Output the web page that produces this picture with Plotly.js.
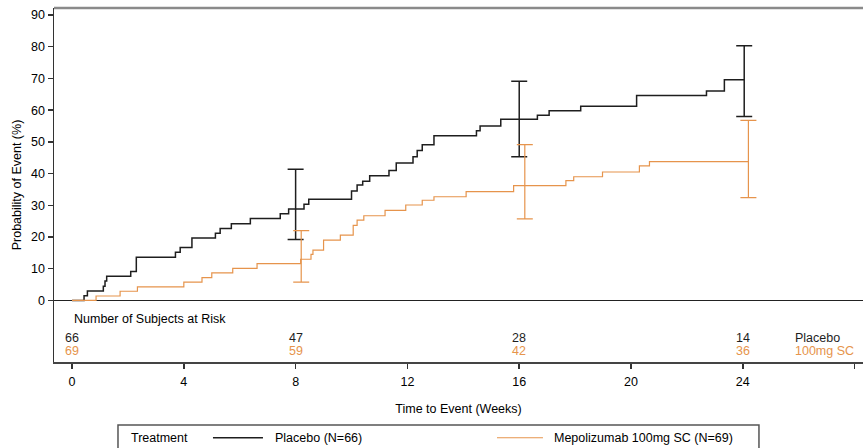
<!DOCTYPE html>
<html>
<head>
<meta charset="utf-8">
<script src="https://cdn.plot.ly/plotly-3.0.1.min.js"></script>
<style>
  html, body { margin: 0; padding: 0; background: #fff; }
  #chart { width: 863px; height: 448px; }
</style>
</head>
<body>
<div id="chart"></div>
<script>
// Kaplan-Meier style cumulative probability of event, by treatment arm
const placeboWeeks = [0, 0.43, 0.55, 1.12, 1.18, 1.24, 2.1, 2.3, 3.7, 3.87, 4.29, 5.13, 5.3, 5.7, 6.38, 7.45, 7.75, 8.3, 8.47, 10.0, 10.2, 10.4, 10.65, 11.34, 11.6, 12.2, 12.35, 12.53, 12.95, 14.47, 14.6, 15.34, 16.65, 17.07, 18.2, 20.2, 22.7, 23.34, 24.05];
const placeboProb  = [0, 1.5, 3.0, 4.5, 6.1, 7.6, 9.1, 13.6, 15.2, 16.7, 19.7, 21.2, 22.7, 24.2, 25.8, 27.3, 28.8, 30.3, 31.9, 34.5, 36.4, 37.6, 39.3, 41.0, 43.3, 45.3, 47.3, 49.1, 51.9, 53.5, 55.0, 57.1, 58.4, 59.8, 61.2, 64.6, 66.0, 69.6, 69.6];

const mepoWeeks = [0, 0.86, 1.72, 2.34, 4.0, 4.65, 5.0, 5.75, 6.62, 8.18, 8.55, 8.62, 9.0, 9.6, 10.06, 10.2, 10.44, 11.2, 11.94, 12.53, 12.95, 14.1, 15.8, 17.67, 17.95, 18.98, 20.3, 20.66, 24.2];
const mepoProb  = [0, 1.4, 2.9, 4.3, 5.8, 7.2, 8.7, 10.1, 11.6, 13.0, 14.5, 15.9, 19.0, 20.6, 23.7, 25.3, 26.7, 28.4, 30.1, 31.6, 32.7, 34.3, 36.2, 37.8, 39.0, 40.5, 42.4, 43.8, 43.8];

// 95% confidence intervals at weeks 8, 16 and 24
const placeboCIWeeks = [8.0, 16.0, 24.05];
const placeboCIEst   = [28.8, 57.1, 69.6];
const placeboCILow   = [19.2, 45.3, 58.0];
const placeboCIHigh  = [41.4, 69.1, 80.3];

const mepoCIWeeks = [8.2, 16.2, 24.2];
const mepoCIEst   = [13.0, 36.2, 43.8];
const mepoCILow   = [5.8, 25.7, 32.4];
const mepoCIHigh  = [22.0, 49.1, 56.8];

// Number of subjects at risk
const riskWeeks   = [0, 8, 16, 24];
const riskPlacebo = [66, 47, 28, 14];
const riskMepo    = [69, 59, 42, 36];

const armNames   = ['Placebo', '100mg SC'];
const legendText = ['Placebo (N=66)', 'Mepolizumab 100mg SC (N=69)'];

const xTicks = [0, 4, 8, 12, 16, 20, 24, 28];
const xTickText = ['0', '4', '8', '12', '16', '20', '24', ''];
const yTicks = [0, 10, 20, 30, 40, 50, 60, 70, 80, 90];

const BLACK = '#1e1e1e';
const ORANGE = '#E6944C';
const FONT = 'Liberation Sans, Arial, sans-serif';
const FS = 12.5;

const traces = [
  {
    x: placeboWeeks, y: placeboProb, type: 'scatter', mode: 'lines',
    line: { shape: 'hv', color: BLACK, width: 1.5 },
    hoverinfo: 'skip', showlegend: false
  },
  {
    x: placeboCIWeeks, y: placeboCIEst, type: 'scatter', mode: 'markers',
    marker: { size: 1, color: 'rgba(0,0,0,0)' },
    error_y: {
      type: 'data', symmetric: false,
      array: placeboCIHigh.map((h, i) => h - placeboCIEst[i]),
      arrayminus: placeboCIEst.map((e, i) => e - placeboCILow[i]),
      color: BLACK, thickness: 1.5, width: 8
    },
    hoverinfo: 'skip', showlegend: false
  },
  {
    x: mepoWeeks, y: mepoProb, type: 'scatter', mode: 'lines',
    line: { shape: 'hv', color: ORANGE, width: 1.2 },
    hoverinfo: 'skip', showlegend: false
  },
  {
    x: mepoCIWeeks, y: mepoCIEst, type: 'scatter', mode: 'markers',
    marker: { size: 1, color: 'rgba(0,0,0,0)' },
    error_y: {
      type: 'data', symmetric: false,
      array: mepoCIHigh.map((h, i) => h - mepoCIEst[i]),
      arrayminus: mepoCIEst.map((e, i) => e - mepoCILow[i]),
      color: ORANGE, thickness: 1.2, width: 8
    },
    hoverinfo: 'skip', showlegend: false
  }
];

// at-risk table rows, inside the lower band of the plot frame
const RISK_TITLE_Y = -5.9, RISK_ROW1_Y = -11.7, RISK_ROW2_Y = -15.9;
const annotations = [
  { x: 0, y: RISK_TITLE_Y, xref: 'x', yref: 'y', text: 'Number of Subjects at Risk',
    xanchor: 'left', yanchor: 'middle', showarrow: false, font: { family: FONT, size: FS, color: '#000' } }
];
riskWeeks.forEach((w, i) => {
  annotations.push({ x: w, y: RISK_ROW1_Y, xref: 'x', yref: 'y', text: String(riskPlacebo[i]),
    xanchor: 'center', yanchor: 'middle', showarrow: false, font: { family: FONT, size: FS, color: BLACK } });
  annotations.push({ x: w, y: RISK_ROW2_Y, xref: 'x', yref: 'y', text: String(riskMepo[i]),
    xanchor: 'center', yanchor: 'middle', showarrow: false, font: { family: FONT, size: FS, color: ORANGE } });
});
annotations.push({ x: 25.8, y: RISK_ROW1_Y, xref: 'x', yref: 'y', text: armNames[0],
  xanchor: 'left', yanchor: 'middle', showarrow: false, font: { family: FONT, size: FS, color: BLACK } });
annotations.push({ x: 25.8, y: RISK_ROW2_Y, xref: 'x', yref: 'y', text: armNames[1],
  xanchor: 'left', yanchor: 'middle', showarrow: false, font: { family: FONT, size: FS, color: ORANGE } });

// legend box below the axis title
const LEG_Y = -0.214;
annotations.push({ x: 0.093, y: LEG_Y, xref: 'paper', yref: 'paper', text: 'Treatment',
  xanchor: 'left', yanchor: 'middle', showarrow: false, font: { family: FONT, size: FS, color: '#000' } });
annotations.push({ x: 0.271, y: LEG_Y, xref: 'paper', yref: 'paper', text: legendText[0],
  xanchor: 'left', yanchor: 'middle', showarrow: false, font: { family: FONT, size: FS, color: '#000' } });
annotations.push({ x: 0.616, y: LEG_Y, xref: 'paper', yref: 'paper', text: legendText[1],
  xanchor: 'left', yanchor: 'middle', showarrow: false, font: { family: FONT, size: FS, color: '#000' } });

const shapes = [
  // top edge of the frame
  { type: 'line', xref: 'paper', yref: 'paper', x0: 0, x1: 1, y0: 1, y1: 1,
    line: { color: '#8a8a8a', width: 2.5 } },
  // legend frame
  { type: 'rect', xref: 'paper', yref: 'paper', x0: 0.0791, x1: 0.8714, y0: -0.178, y1: -0.32,
    line: { color: '#555', width: 1.5 }, fillcolor: 'rgba(0,0,0,0)' },
  { type: 'line', xref: 'paper', yref: 'paper', x0: 0.1965, x1: 0.2583, y0: LEG_Y, y1: LEG_Y,
    line: { color: BLACK, width: 1.5 } },
  { type: 'line', xref: 'paper', yref: 'paper', x0: 0.5476, x1: 0.6044, y0: LEG_Y, y1: LEG_Y,
    line: { color: ORANGE, width: 1.2 } }
];

const layout = {
  width: 863, height: 448,
  margin: { l: 54, r: 0, t: 8, b: 86 },
  paper_bgcolor: '#fff', plot_bgcolor: '#fff',
  font: { family: FONT, size: FS, color: '#000' },
  showlegend: false,
  xaxis: {
    range: [-0.645, 28.3],
    tickvals: xTicks, ticktext: xTickText,
    ticks: 'outside', ticklen: 5, tickwidth: 1.5, tickcolor: '#333',
    ticklabelstandoff: 2,
    showline: true, linecolor: '#444', linewidth: 2,
    showgrid: false, zeroline: false,
    tickfont: { family: FONT, size: FS, color: '#000' },
    title: { text: 'Time to Event (Weeks)', font: { family: FONT, size: FS, color: '#000' }, standoff: 16 },
    automargin: false
  },
  yaxis: {
    range: [-19.4, 92.2],
    tickvals: yTicks,
    ticks: 'outside', ticklen: 5, tickwidth: 1.5, tickcolor: '#333',
    showline: true, linecolor: '#333', linewidth: 1.5,
    showgrid: false,
    zeroline: true, zerolinecolor: '#222', zerolinewidth: 1.5,
    tickfont: { family: FONT, size: FS, color: '#000' },
    title: { text: 'Probability of Event (%)', font: { family: FONT, size: FS, color: '#000' }, standoff: 6 },
    automargin: false
  },
  shapes: shapes,
  annotations: annotations
};

Plotly.newPlot('chart', traces, layout, { displayModeBar: false, staticPlot: true });
</script>
</body>
</html>
